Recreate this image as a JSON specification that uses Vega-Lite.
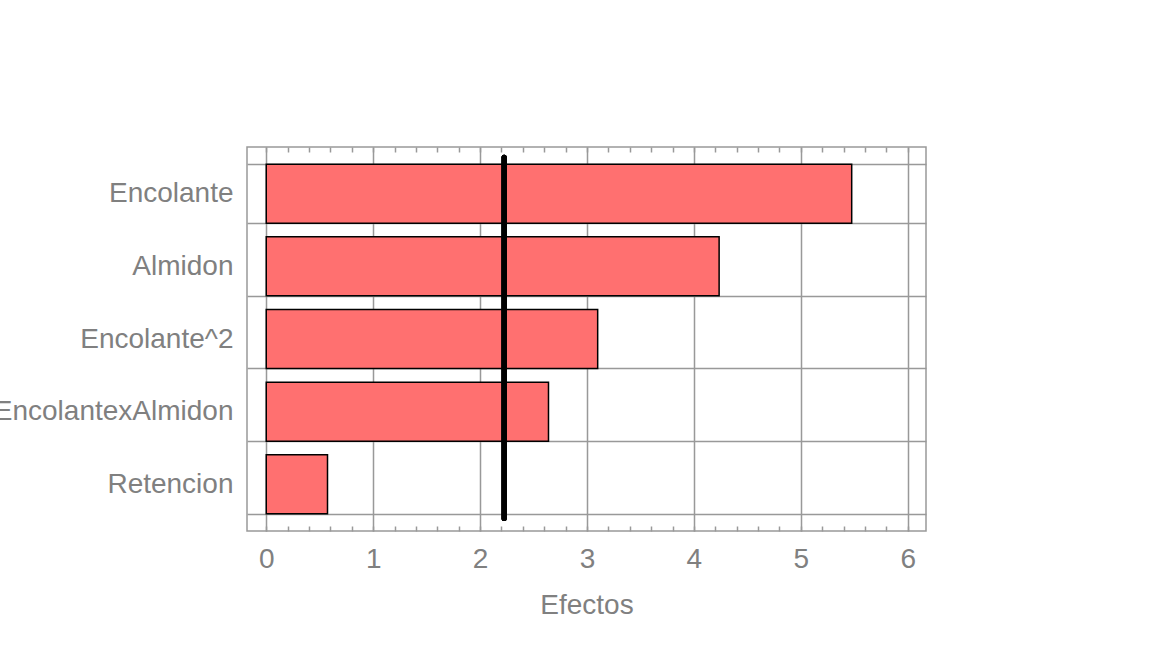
{
  "$schema": "https://vega.github.io/schema/vega-lite/v6.json",
  "width": 679,
  "height": 384,
  "autosize": "none",
  "padding": {"left": 247, "top": 147, "right": 231, "bottom": 131},
  "background": "white",
  "config": {
    "view": {"stroke": "#999999", "strokeWidth": 1.5},
    "font": "Liberation Sans"
  },
  "data": {
    "values": [
      {"term": "Encolante", "effect": 5.476},
      {"term": "Almidon", "effect": 4.236},
      {"term": "Encolante^2", "effect": 3.10},
      {"term": "EncolantexAlmidon", "effect": 2.64},
      {"term": "Retencion", "effect": 0.573}
    ]
  },
  "layer": [
    {
      "mark": {"type": "bar", "fill": "#ff7070", "stroke": "black", "strokeWidth": 1.5},
      "encoding": {
        "y": {
          "field": "term",
          "type": "nominal",
          "sort": null,
          "scale": {"paddingInner": 0.188, "paddingOuter": 0.237},
          "axis": {
            "title": null,
            "ticks": false,
            "domain": false,
            "labelFontSize": 28,
            "labelColor": "#808080",
            "labelPadding": 14,
            "labelLimit": 1000,
            "grid": true,
            "tickBand": "extent",
            "gridColor": "#999999",
            "gridWidth": 1.5
          }
        },
        "x": {
          "field": "effect",
          "type": "quantitative",
          "scale": {"domain": [-0.18, 6.171], "nice": false, "zero": false},
          "axis": {
            "orient": "bottom",
            "title": "Efectos",
            "titleFontSize": 28,
            "titleFontWeight": "normal",
            "titleColor": "#808080",
            "titleBaseline": "alphabetic",
            "titleY": 82,
            "values": [0, 0.2, 0.4, 0.6, 0.8, 1, 1.2, 1.4, 1.6, 1.8, 2, 2.2, 2.4, 2.6, 2.8, 3, 3.2, 3.4, 3.6, 3.8, 4, 4.2, 4.4, 4.6, 4.8, 5, 5.2, 5.4, 5.6, 5.8, 6],
            "format": "~g",
            "labelExpr": "datum.value % 1 === 0 ? datum.label : ''",
            "labelFontSize": 28,
            "labelColor": "#808080",
            "labelBaseline": "alphabetic",
            "labelPadding": 41,
            "labelFlush": false,
            "labelOverlap": false,
            "domain": false,
            "ticks": true,
            "tickSize": -5,
            "tickColor": "#999999",
            "tickWidth": 1.5,
            "grid": true,
            "gridColor": "#999999",
            "gridWidth": 1.5,
            "gridOpacity": {"condition": {"test": "datum.value % 1 === 0", "value": 1}, "value": 0}
          }
        },
        "x2": {"datum": 0}
      }
    },
    {
      "mark": {"type": "rule", "strokeWidth": 5, "strokeCap": "round", "color": "black"},
      "encoding": {
        "x": {
          "datum": 2.225,
          "type": "quantitative",
          "axis": {
            "orient": "top",
            "title": null,
            "labels": false,
            "domain": false,
            "grid": false,
            "ticks": true,
            "tickSize": -5,
            "tickColor": "#999999",
            "tickWidth": 1.5,
            "values": [0, 0.2, 0.4, 0.6, 0.8, 1, 1.2, 1.4, 1.6, 1.8, 2, 2.2, 2.4, 2.6, 2.8, 3, 3.2, 3.4, 3.6, 3.8, 4, 4.2, 4.4, 4.6, 4.8, 5, 5.2, 5.4, 5.6, 5.8, 6]
          }
        },
        "y": {"datum": "Encolante", "type": "nominal", "bandPosition": -0.12},
        "y2": {"datum": "Retencion", "bandPosition": 1.08}
      }
    }
  ],
  "resolve": {"axis": {"x": "independent"}}
}
